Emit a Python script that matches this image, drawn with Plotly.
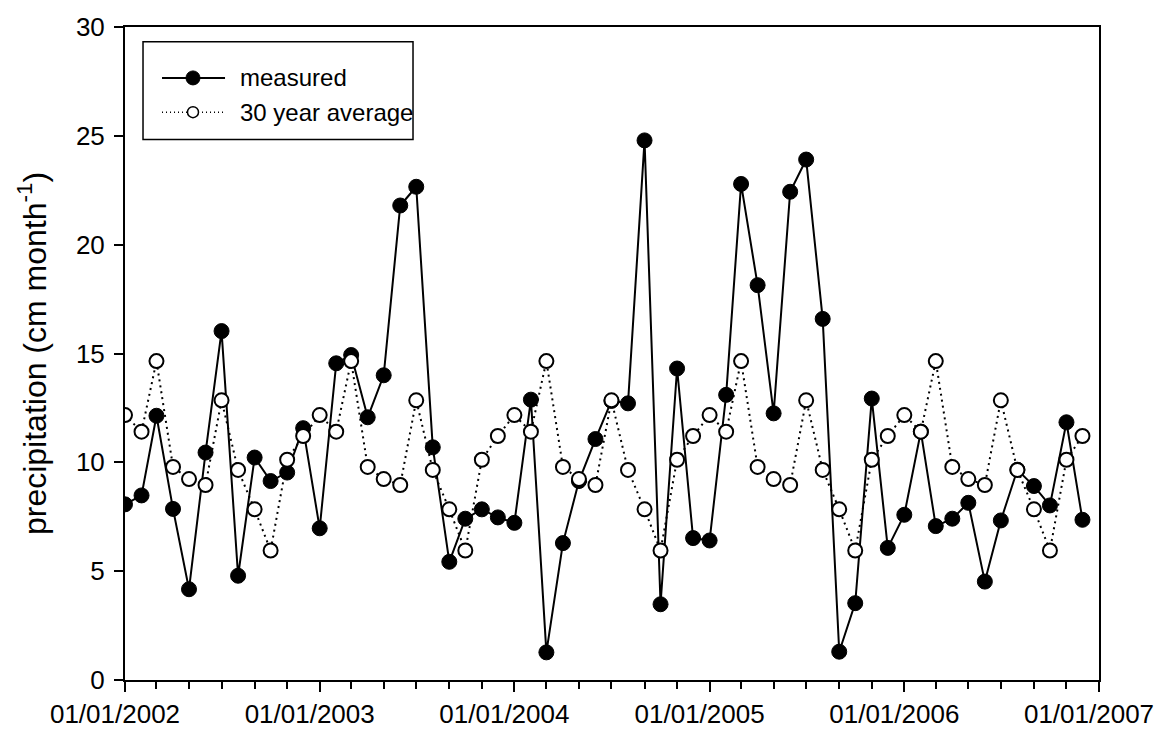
import plotly.graph_objects as go
import pandas as pd

# Monthly precipitation, Jan 2002 - Dec 2006 (cm month^-1)
months = pd.date_range("2002-01-01", "2006-12-01", freq="MS")

measured = [
    8.07, 8.48, 12.14, 7.86, 4.17, 10.45, 16.03, 4.79, 10.22, 9.14, 9.53, 11.57,
    6.97, 14.55, 14.93, 12.07, 14.00, 21.80, 22.66, 10.69, 5.43, 7.41, 7.84, 7.47,
    7.22, 12.88, 1.27, 6.29, 9.14, 11.07, 12.82, 12.71, 24.79, 3.48, 14.31, 6.52,
    6.41, 13.10, 22.79, 18.14, 12.25, 22.43, 23.91, 16.59, 1.30, 3.53, 12.93, 6.07,
    7.59, 11.41, 7.07, 7.41, 8.14, 4.52, 7.33, 9.66, 8.91, 8.02, 11.84, 7.36,
]

average_30yr = [
    12.17, 11.41, 14.65, 9.79, 9.23, 8.96, 12.85, 9.65, 7.84, 5.95, 10.12, 11.21,
    12.17, 11.41, 14.65, 9.79, 9.23, 8.96, 12.85, 9.65, 7.84, 5.95, 10.12, 11.21,
    12.17, 11.41, 14.65, 9.79, 9.23, 8.96, 12.85, 9.65, 7.84, 5.95, 10.12, 11.21,
    12.17, 11.41, 14.65, 9.79, 9.23, 8.96, 12.85, 9.65, 7.84, 5.95, 10.12, 11.21,
    12.17, 11.41, 14.65, 9.79, 9.23, 8.96, 12.85, 9.65, 7.84, 5.95, 10.12, 11.21,
]

year_ticks = ["2002-01-01", "2003-01-01", "2004-01-01", "2005-01-01", "2006-01-01", "2007-01-01"]
year_labels = ["01/01/2002", "01/01/2003", "01/01/2004", "01/01/2005", "01/01/2006", "01/01/2007"]
legend_names = ["measured", "30 year average"]

FONT = "Liberation Sans, Arial, sans-serif"

fig = go.Figure()

fig.add_trace(go.Scatter(
    x=months, y=measured, mode="lines+markers", name=legend_names[0],
    line=dict(color="black", width=2),
    marker=dict(symbol="circle", size=15, color="black", line=dict(color="black", width=1)),
    showlegend=False,
))
fig.add_trace(go.Scatter(
    x=months, y=average_30yr, mode="lines+markers", name=legend_names[1],
    line=dict(color="black", width=2, dash="2px,4px"),
    marker=dict(symbol="circle", size=14, color="white", line=dict(color="black", width=2)),
    showlegend=False,
))

# Boxed legend in the upper-left corner of the plot area
shapes = [
    dict(type="rect", xref="paper", yref="paper", x0=0.0185, x1=0.2957, y0=0.8276, y1=0.9775,
         line=dict(color="black", width=1.5), fillcolor="white", layer="above"),
    dict(type="line", xref="paper", yref="paper", x0=0.038, x1=0.1027, y0=0.922, y1=0.922,
         line=dict(color="black", width=2), layer="above"),
    dict(type="line", xref="paper", yref="paper", x0=0.038, x1=0.1027, y0=0.8696, y1=0.8696,
         line=dict(color="black", width=1.5, dash="1px,3px"), layer="above"),
    dict(type="circle", xref="paper", yref="paper", xsizemode="pixel", ysizemode="pixel",
         xanchor=0.0698, yanchor=0.922, x0=-7, x1=7, y0=-7, y1=7,
         fillcolor="black", line=dict(color="black", width=1), layer="above"),
    dict(type="circle", xref="paper", yref="paper", xsizemode="pixel", ysizemode="pixel",
         xanchor=0.0698, yanchor=0.8696, x0=-5.5, x1=5.5, y0=-5.5, y1=5.5,
         fillcolor="white", line=dict(color="black", width=1.5), layer="above"),
]
annotations = [
    dict(xref="paper", yref="paper", x=0.116, y=0.922, text=legend_names[0], showarrow=False,
         xanchor="left", yanchor="middle", font=dict(family=FONT, size=24, color="black")),
    dict(xref="paper", yref="paper", x=0.116, y=0.8696, text=legend_names[1], showarrow=False,
         xanchor="left", yanchor="middle", font=dict(family=FONT, size=24, color="black")),
]

fig.update_layout(
    width=1171, height=741,
    margin=dict(l=125, r=72, t=19, b=55),
    paper_bgcolor="white", plot_bgcolor="white",
    font=dict(family=FONT, size=26, color="black"),
    shapes=shapes, annotations=annotations,
    xaxis=dict(
        type="date", range=["2002-01-01", "2007-01-01"],
        tickmode="array", tickvals=year_ticks, ticktext=year_labels,
        ticks="outside", ticklen=10, tickwidth=1.5, tickcolor="black",
        ticklabelshift=-10,
        minor=dict(dtick="M2", tick0="2002-01-01", ticks="outside", ticklen=7,
                   tickwidth=1.5, tickcolor="black", showgrid=False),
        showline=True, linecolor="black", linewidth=2, mirror=True,
        showgrid=False, zeroline=False,
        tickfont=dict(family=FONT, size=26),
    ),
    yaxis=dict(
        range=[0, 30], tickmode="linear", tick0=0, dtick=5,
        ticks="outside", ticklen=9, tickwidth=1.5, tickcolor="black",
        ticklabelstandoff=4,
        showline=True, linecolor="black", linewidth=2, mirror=True,
        showgrid=False, zeroline=False,
        tickfont=dict(family=FONT, size=26),
        title=dict(text="precipitation (cm month<sup>-1</sup>)",
                   font=dict(family=FONT, size=32), standoff=20),
    ),
)

fig.write_html("out.html")
